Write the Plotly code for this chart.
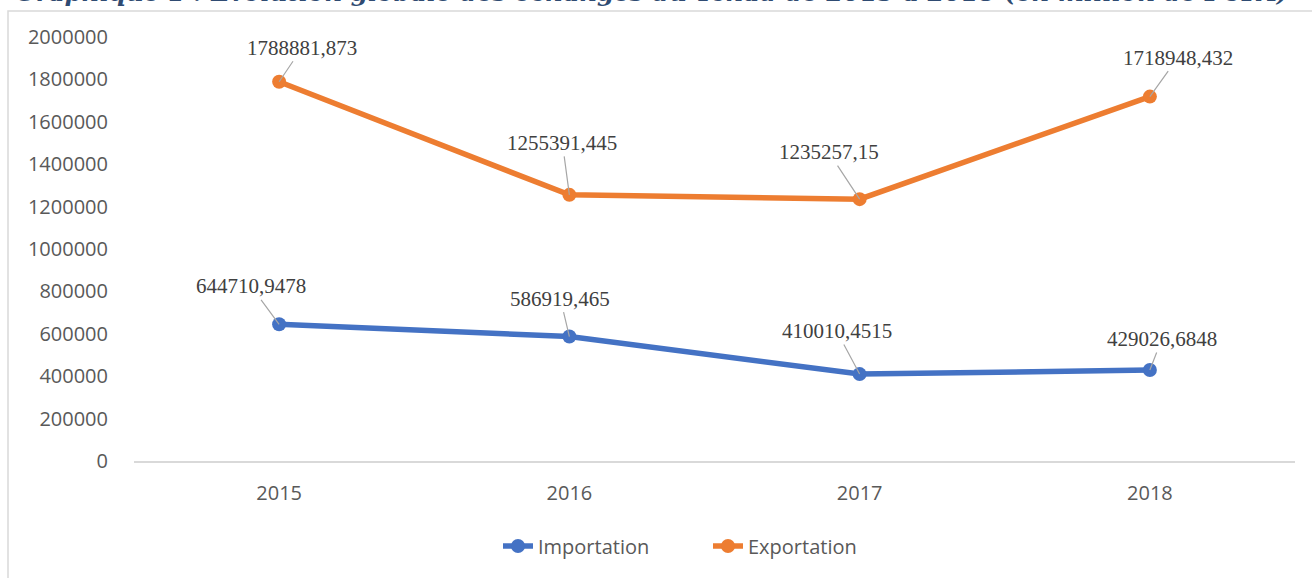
import plotly.graph_objects as go

# ---- data ----
years = ["2015", "2016", "2017", "2018"]
importation = [644710.9478, 586919.465, 410010.4515, 429026.6848]
exportation = [1788881.873, 1255391.445, 1235257.15, 1718948.432]
import_labels = ["644710,9478", "586919,465", "410010,4515", "429026,6848"]
export_labels = ["1788881,873", "1255391,445", "1235257,15", "1718948,432"]
y_ticks = [0, 200000, 400000, 600000, 800000, 1000000, 1200000, 1400000,
           1600000, 1800000, 2000000]
title_text = ("Graphique 1 : Evolution globale des échanges du Tchad de 2015 à 2018 "
              "(en million de FCFA)")

# ---- style: label offsets (pixels) ----
import_offsets = [(-28, -38), (-9, -38), (-23, -43), (12, -31)]
export_offsets = [(23, -34), (-7, -52), (-31, -47), (28, -39)]

BLUE = "#4472C4"
ORANGE = "#ED7D31"
W, H = 1312, 578
ML, MR, MT, MB = 134, 17, 37, 117
PW, PH = W - ML - MR, H - MT - MB


def px_x(p):
    return (p - ML) / PW


def px_y(p):
    return (H - MB - p) / PH


fig = go.Figure()
fig.add_trace(go.Scatter(x=years, y=importation, name="Importation", mode="lines+markers",
                         line=dict(color=BLUE, width=5.5), marker=dict(size=14, color=BLUE)))
fig.add_trace(go.Scatter(x=years, y=exportation, name="Exportation", mode="lines+markers",
                         line=dict(color=ORANGE, width=5.5), marker=dict(size=14, color=ORANGE)))

annotations = []
for vals, labs, offs in ((importation, import_labels, import_offsets),
                         (exportation, export_labels, export_offsets)):
    for i, (v, lab, (ax, ay)) in enumerate(zip(vals, labs, offs)):
        annotations.append(dict(x=i, y=v, xref="x", yref="y", text=lab,
                                showarrow=True, arrowhead=0, arrowwidth=1.2,
                                arrowcolor="#A6A6A6", ax=ax, ay=ay, standoff=0,
                                font=dict(family="Liberation Serif", size=21, color="#404040")))

annotations.append(dict(x=px_x(651), y=px_y(-8), xref="paper", yref="paper",
                        text="<b><i>" + title_text + "</i></b>", showarrow=False,
                        xanchor="center", yanchor="middle",
                        font=dict(family="DejaVu Serif", size=24.5, color="#2F4B72")))

fig.update_layout(
    width=W, height=H,
    margin=dict(l=ML, r=MR, t=MT, b=MB),
    paper_bgcolor="white", plot_bgcolor="white",
    showlegend=True,
    legend=dict(orientation="h", x=px_x(708), y=px_y(546), xanchor="center", yanchor="middle",
                font=dict(family="Open Sans", size=20, color="#595959"),
                entrywidth=165, traceorder="normal"),
    annotations=annotations,
    shapes=[dict(type="rect", xref="paper", yref="paper",
                 x0=px_x(8), x1=px_x(1330), y0=px_y(600), y1=px_y(11),
                 line=dict(color="#D9D9D9", width=1.5), fillcolor="rgba(0,0,0,0)", layer="below")],
    xaxis=dict(type="category", range=[-0.5, 3.5], showgrid=False, zeroline=False,
               showline=True, linecolor="#D9D9D9", linewidth=1.5,
               ticks="outside", ticklen=13, tickcolor="rgba(0,0,0,0)",
               tickfont=dict(family="Open Sans", size=20, color="#595959")),
    yaxis=dict(range=[0, 2000000], tickvals=y_ticks, ticktext=[str(t) for t in y_ticks],
               showgrid=False, zeroline=False, showline=False,
               ticks="outside", ticklen=21, tickcolor="rgba(0,0,0,0)",
               tickfont=dict(family="Open Sans", size=20, color="#595959")),
)

fig.write_html("out.html", config={"displayModeBar": False},
               post_script="document.body.style.margin='0';document.body.style.overflow='hidden';")
